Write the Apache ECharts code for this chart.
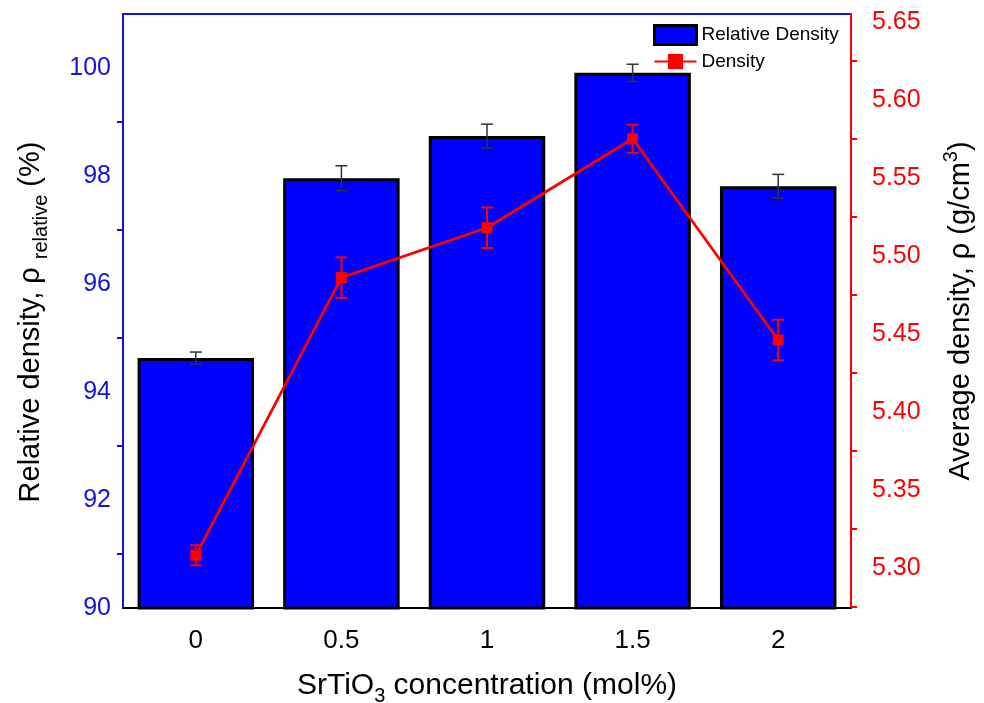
<!DOCTYPE html>
<html>
<head>
<meta charset="utf-8">
<script src="https://cdn.jsdelivr.net/npm/echarts@6/dist/echarts.min.js"></script>
<style>
html,body{margin:0;padding:0;background:#fff}
#main{width:984px;height:703px}
</style>
</head>
<body>
<div id="main"></div>
<script>
var concentrations = ['0', '0.5', '1', '1.5', '2'];
var relativeDensity = [94.63, 97.96, 98.74, 99.91, 97.81];
var relativeDensityErr = [0.11, 0.23, 0.22, 0.16, 0.22];
var density = [5.308, 5.486, 5.518, 5.575, 5.446];
var densityErr = [0.0064, 0.013, 0.013, 0.009, 0.013];

var FONT = '"Liberation Sans", Arial, sans-serif';
var BLUE = '#1414d2';
var RED = '#ff0000';

var chart = echarts.init(document.getElementById('main'));

// error bar data: [categoryIndex, low, high]
function errRows(vals, errs) {
  return vals.map(function (v, i) { return [i, v - errs[i], v + errs[i]]; });
}

function errorBar(color, width, cap) {
  return function (params, api) {
    var x = api.value(0);
    var lo = api.coord([x, api.value(1)]);
    var hi = api.coord([x, api.value(2)]);
    var st = { stroke: color, lineWidth: width };
    return {
      type: 'group',
      children: [
        { type: 'line', shape: { x1: lo[0], y1: lo[1], x2: hi[0], y2: hi[1] }, style: st },
        { type: 'line', shape: { x1: lo[0] - cap, y1: lo[1], x2: lo[0] + cap, y2: lo[1] }, style: st },
        { type: 'line', shape: { x1: hi[0] - cap, y1: hi[1], x2: hi[0] + cap, y2: hi[1] }, style: st }
      ]
    };
  };
}

var option = {
  animation: false,
  backgroundColor: '#fff',
  textStyle: { fontFamily: FONT },
  grid: {
    left: 123, right: 133, top: 14, bottom: 95,
    outerBoundsMode: 'none',
    containLabel: false,
    show: true, borderColor: BLUE, borderWidth: 2
  },
  legend: {
    orient: 'vertical',
    left: 648, top: 19,
    itemWidth: 42, itemHeight: 19, itemGap: 6,
    textStyle: { fontSize: 19, color: '#000', fontFamily: FONT },
    data: [
      { name: 'Relative Density', icon: 'rect', itemStyle: { borderColor: '#000', borderWidth: 3 } },
      { name: 'Density' }
    ]
  },
  xAxis: [{
    type: 'category',
    data: concentrations,
    position: 'bottom',
    axisLine: { lineStyle: { color: '#000', width: 2 } },
    axisTick: { alignWithLabel: true, length: 10, lineStyle: { color: '#000', width: 2 } },
    axisLabel: { color: '#000', fontSize: 26, margin: 20, fontFamily: FONT },
    name: '{n|SrTiO}{s|3}{n| concentration (mol%)}',
    nameLocation: 'middle',
    nameGap: 58,
    nameTextStyle: {
      rich: {
        n: { fontSize: 30, color: '#000', fontFamily: FONT, lineHeight: 40 },
        s: { fontSize: 20, color: '#000', fontFamily: FONT, verticalAlign: 'bottom', lineHeight: 40 }
      }
    }
  }, {
    type: 'category',
    data: concentrations,
    position: 'bottom',
    axisLine: { show: false },
    axisTick: { length: 5, lineStyle: { color: '#000', width: 2 } },
    axisLabel: { show: false }
  }],
  yAxis: [{
    type: 'value',
    min: 90, max: 101, interval: 2,
    position: 'left',
    splitLine: { show: false },
    axisLine: { show: true, lineStyle: { color: BLUE, width: 2 } },
    axisTick: { length: 11, lineStyle: { color: BLUE, width: 2 } },
    minorTick: { show: true, splitNumber: 2, length: 6, lineStyle: { color: BLUE, width: 2 } },
    axisLabel: { color: BLUE, fontSize: 25, margin: 12, showMaxLabel: false, fontFamily: FONT },
    name: '{n|Relative density, ρ }{s|relative}{n| (%)}',
    nameLocation: 'middle',
    nameRotate: 90,
    nameGap: 72,
    nameTextStyle: {
      padding: [0, 22, 0, 0],
      rich: {
        n: { fontSize: 29, color: '#000', fontFamily: FONT, lineHeight: 40 },
        s: { fontSize: 20, color: '#000', fontFamily: FONT, verticalAlign: 'bottom', lineHeight: 40 }
      }
    }
  }, {
    type: 'value',
    min: 5.2742, max: 5.655, splitNumber: 8,
    position: 'right',
    splitLine: { show: false },
    axisLine: { show: true, lineStyle: { color: RED, width: 2 } },
    axisTick: { length: 12, lineStyle: { color: RED, width: 2 } },
    minorTick: { show: true, splitNumber: 2, length: 6, lineStyle: { color: RED, width: 2 } },
    axisLabel: {
      color: RED, fontSize: 25, margin: 21, fontFamily: FONT,
      showMinLabel: false, showMaxLabel: false,
      formatter: function (v) { return v.toFixed(2); }
    },
    name: '{n|Average density, ρ (g/cm}{p|3}{n|)}',
    nameLocation: 'middle',
    nameRotate: 90,
    nameGap: 90,
    nameTextStyle: {
      rich: {
        n: { fontSize: 29, color: '#000', fontFamily: FONT, lineHeight: 40 },
        p: { fontSize: 20, color: '#000', fontFamily: FONT, verticalAlign: 'top', lineHeight: 40 }
      }
    }
  }],
  series: [{
    name: 'Relative Density',
    type: 'bar',
    data: relativeDensity,
    barWidth: '80%',
    itemStyle: { color: '#0000ff', borderColor: '#000', borderWidth: 3 },
    z: 2
  }, {
    type: 'custom',
    data: errRows(relativeDensity, relativeDensityErr),
    encode: { x: 0, y: [1, 2] },
    renderItem: errorBar('#333', 1.5, 6),
    z: 3
  }, {
    name: 'Density',
    type: 'line',
    yAxisIndex: 1,
    data: density,
    symbol: 'rect',
    symbolSize: 11,
    lineStyle: { color: RED, width: 2.8 },
    itemStyle: { color: RED },
    z: 5
  }, {
    type: 'custom',
    yAxisIndex: 1,
    data: errRows(density, densityErr),
    encode: { x: 0, y: [1, 2] },
    renderItem: errorBar(RED, 2, 6),
    z: 4
  }]
};

chart.setOption(option);
</script>
</body>
</html>
